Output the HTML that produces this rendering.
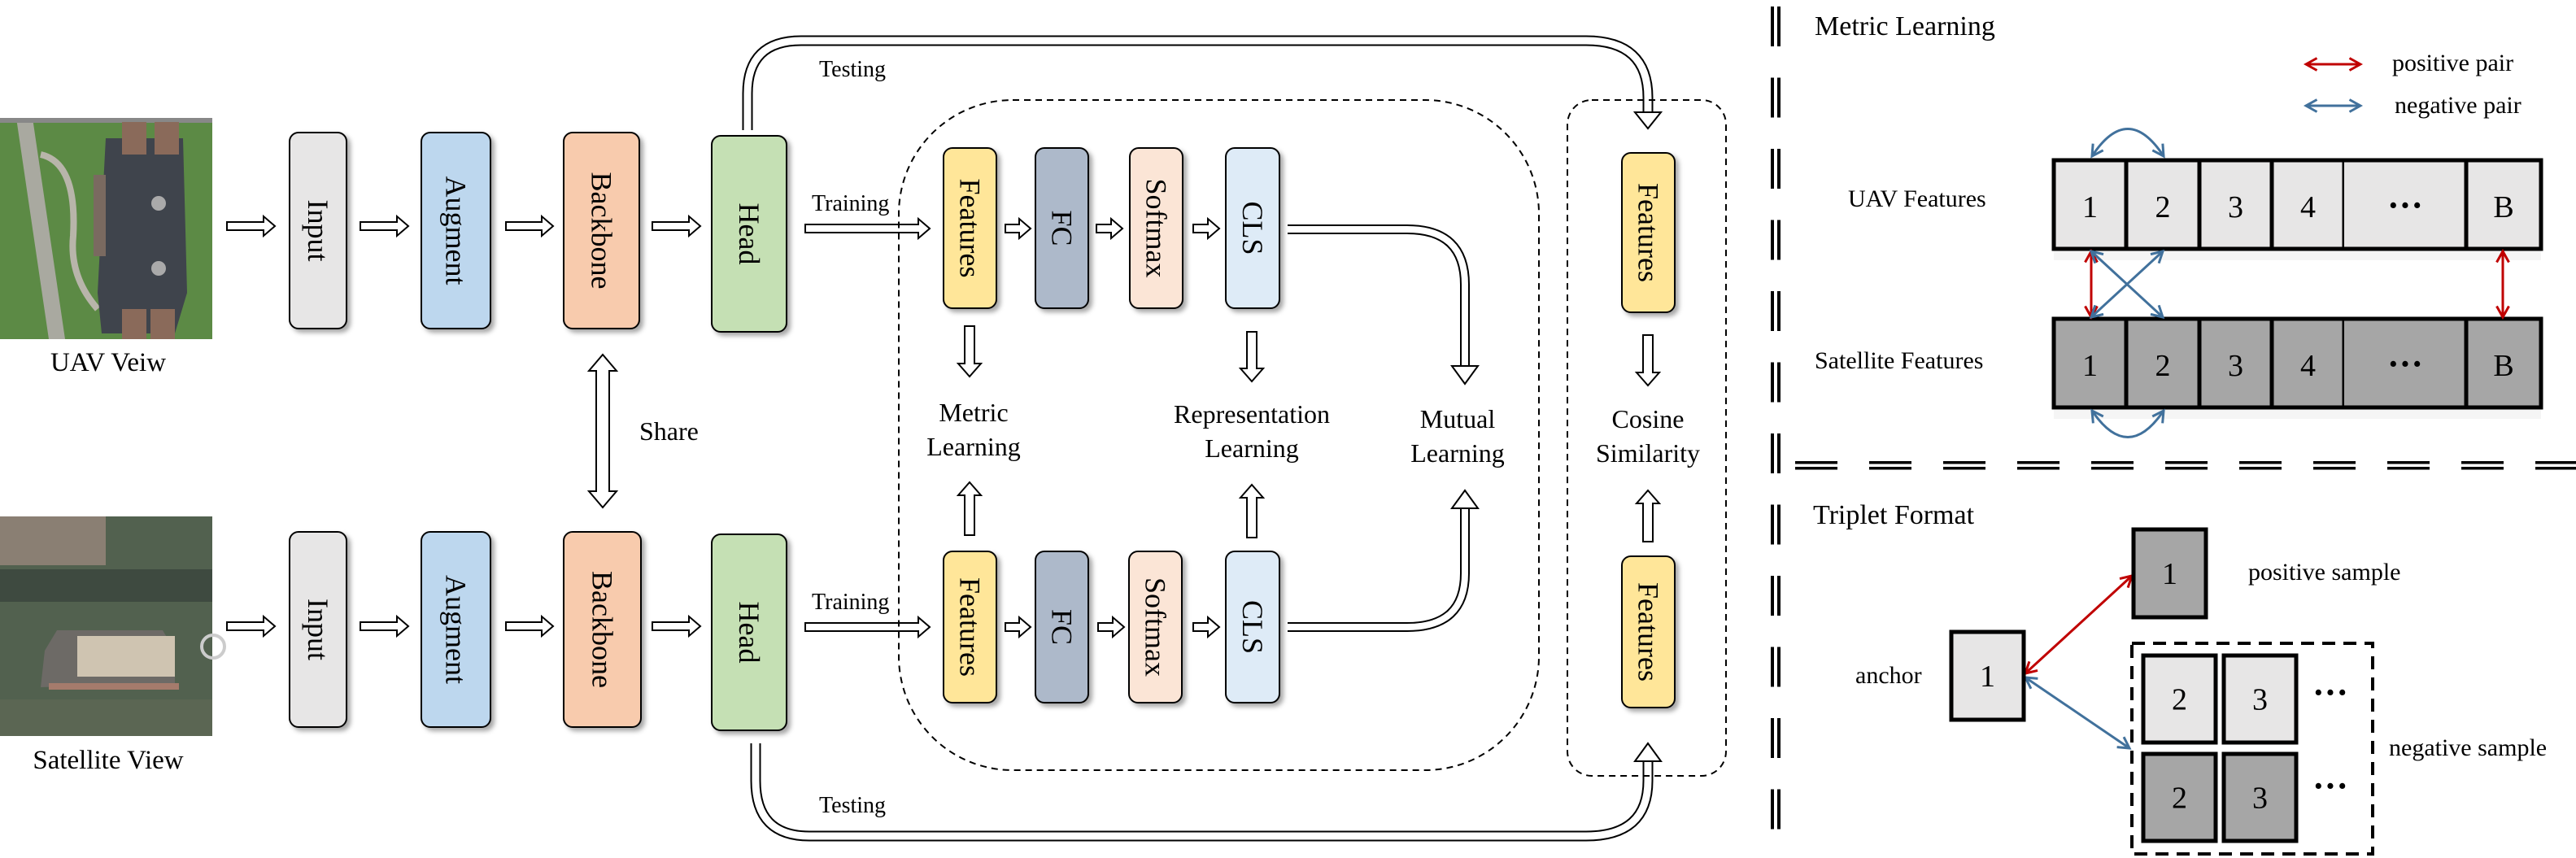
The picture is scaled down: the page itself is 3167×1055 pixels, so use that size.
<!DOCTYPE html>
<html><head><meta charset="utf-8"><style>
html,body{margin:0;padding:0;background:#fff}
svg{display:block}
text{font-family:"Liberation Serif",serif;fill:#000}
</style></head><body>
<svg id="s" width="3167" height="1055" viewBox="0 0 3167 1055" xmlns="http://www.w3.org/2000/svg">
<defs>
<filter id="sh" x="-20%" y="-20%" width="150%" height="150%"><feDropShadow dx="4" dy="4" stdDeviation="3" flood-color="#000" flood-opacity="0.35"/></filter>
<marker id="mr" viewBox="0 0 12 12" refX="10" refY="6" markerWidth="6" markerHeight="6" orient="auto-start-reverse"><path d="M1,1 L10,6 L1,11" fill="none" stroke="#c00000" stroke-width="2"/></marker>
<marker id="mb" viewBox="0 0 12 12" refX="10" refY="6" markerWidth="6" markerHeight="6" orient="auto-start-reverse"><path d="M1,1 L10,6 L1,11" fill="none" stroke="#41719c" stroke-width="2"/></marker>
</defs>

<!-- UAV image -->
<g>
<rect x="0" y="145" width="261" height="272" fill="#5c8a45"/>
<path d="M20,145 L60,417 L80,417 L40,145Z" fill="#a9a9a0"/>
<path d="M50,190 Q95,200 90,290 Q85,340 120,380" stroke="#b8b5aa" stroke-width="8" fill="none"/>
<rect x="0" y="145" width="261" height="6" fill="#888"/>
<polygon points="130,170 225,170 230,360 215,410 125,410 120,360" fill="#3f444c"/>
<rect x="150" y="150" width="30" height="40" fill="#8a6a5a"/><rect x="190" y="150" width="30" height="40" fill="#8a6a5a"/>
<rect x="150" y="380" width="30" height="37" fill="#8a6a5a"/><rect x="185" y="380" width="30" height="37" fill="#8a6a5a"/>
<rect x="115" y="215" width="15" height="100" fill="#7a6a60"/>
<circle cx="195" cy="250" r="9" fill="#aaa"/><circle cx="195" cy="330" r="9" fill="#aaa"/>
</g>
<text x="133" y="456" font-size="33" text-anchor="middle">UAV Veiw</text>

<!-- Satellite image -->
<g>
<rect x="0" y="635" width="261" height="270" fill="#52614f"/>
<rect x="0" y="635" width="130" height="60" fill="#8a7f73"/>
<rect x="0" y="700" width="261" height="40" fill="#3e4a40"/>
<polygon points="70,775 200,775 215,800 215,840 50,845 55,800" fill="#6d6a66"/>
<rect x="95" y="782" width="120" height="50" fill="#cfc4b1"/>
<rect x="60" y="840" width="160" height="8" fill="#a57b6c"/>
<rect x="0" y="860" width="261" height="45" fill="#5b6653"/>
<circle cx="262" cy="795" r="14" fill="none" stroke="#ccc" stroke-width="4"/>
</g>
<text x="133" y="945" font-size="33" text-anchor="middle">Satellite View</text>

<g id="g"></g>

<!-- right panel -->
<g id="r"></g>
</svg>
<script>
const NS='http://www.w3.org/2000/svg';
const g=document.getElementById('g');
const r=document.getElementById('r');
function el(parent,tag,attrs,txt){const e=document.createElementNS(NS,tag);for(const k in attrs)e.setAttribute(k,attrs[k]);if(txt!==undefined)e.textContent=txt;parent.appendChild(e);return e;}

// boxes: [label, x, y, w, h, color]
const boxes=[
['Input',356,163,70,241,'#e7e6e6'],['Augment',518,163,85,241,'#bdd7ee'],['Backbone',693,163,93,241,'#f8cbad'],['Head',875,167,92,241,'#c5e0b4'],
['Input',356,654,70,240,'#e7e6e6'],['Augment',518,654,85,240,'#bdd7ee'],['Backbone',693,654,95,240,'#f8cbad'],['Head',875,657,92,241,'#c5e0b4'],
['Features',1160,182,65,197,'#ffe699'],['FC',1273,182,65,197,'#adb9ca'],['Softmax',1389,182,65,197,'#fbe5d6'],['CLS',1507,182,66,197,'#deebf7'],
['Features',1160,678,65,186,'#ffe699'],['FC',1273,678,65,186,'#adb9ca'],['Softmax',1388,678,65,186,'#fbe5d6'],['CLS',1507,678,66,186,'#deebf7'],
['Features',1994,188,65,196,'#ffe699'],['Features',1994,684,65,186,'#ffe699']
];
boxes.forEach(b=>{
  const grp=el(g,'g',{});
  
  
  el(grp,'rect',{x:b[1],y:b[2],width:b[3],height:b[4],rx:11,fill:b[5],stroke:'#000','stroke-width':2,filter:'url(#sh)'});
  const cx=b[1]+b[3]/2,cy=b[2]+b[4]/2;
  el(grp,'text',{x:cx,y:cy,'font-size':36,'text-anchor':'middle','dominant-baseline':'central',transform:`rotate(90 ${cx} ${cy})`},b[0]);
});

// hollow horizontal arrows [x1,x2,y]
const hArrows=[[279,338,278],[443,502,278],[622,680,278],[802,861,278],[279,338,770],[443,502,770],[622,680,770],[802,861,770],
[1236,1267,281],[1348,1380,281],[1467,1499,281],[1236,1267,771],[1350,1382,771],[1467,1499,771],[990,1143,281],[990,1143,771]];
hArrows.forEach(a=>{
  const [x1,x2,y]=a,s=5,h=12,L=14;
  const p=el(g,'polygon',{points:`${x1},${y-s} ${x2-L},${y-s} ${x2-L},${y-h} ${x2},${y} ${x2-L},${y+h} ${x2-L},${y+s} ${x1},${y+s}`,fill:'#fff',stroke:'#000','stroke-width':2});
  
  
});
// vertical arrows [x,y1,y2] (from y1 to y2 tip)
const vArrows=[[1192,401,463],[1539,408,469],[2026,412,474],[1192,658,593],[1539,661,596],[2026,666,603]];
vArrows.forEach(a=>{
  const [x,y1,y2]=a,s=6,h=14,d=y2>y1?1:-1,L=16*d;
  const p=el(g,'polygon',{points:`${x-s},${y1} ${x-s},${y2-L} ${x-h},${y2-L} ${x},${y2} ${x+h},${y2-L} ${x+s},${y2-L} ${x+s},${y1}`,fill:'#fff',stroke:'#000','stroke-width':2});
  
  
});
// share double arrow
{const x=741,s=8,h=17,L=20,y1=436,y2=624;
const p=el(g,'polygon',{points:`${x},${y1} ${x+h},${y1+L} ${x+s},${y1+L} ${x+s},${y2-L} ${x+h},${y2-L} ${x},${y2} ${x-h},${y2-L} ${x-s},${y2-L} ${x-s},${y1+L} ${x-h},${y1+L}`,fill:'#fff',stroke:'#000','stroke-width':2});

}

// pipes
function pipe(d,w,name){
  const a=el(g,'path',{d:d,fill:'none',stroke:'#000','stroke-width':w+4});
  
  
  el(g,'path',{d:d,fill:'none',stroke:'#fff','stroke-width':w});
}
function headV(x,base,tip,hw){
  const p=el(g,'polygon',{points:`${x-hw},${base} ${x},${tip} ${x+hw},${base}`,fill:'#fff',stroke:'#000','stroke-width':2});
  
  
}
pipe('M919,160 V115 Q919,50 985,50 H1950 Q2026,50 2026,120 V140',9,'testing-path-top');
headV(2026,138,158,16);
pipe('M929,914 V960 Q929,1028 995,1028 H1950 Q2026,1028 2026,960 V936',9,'testing-path-bottom');
headV(2026,936,914,16);
pipe('M1583,282 H1730 Q1801,282 1801,350 V452',8,'mutual-path-top');
headV(1801,450,472,16);
pipe('M1583,771 H1730 Q1801,771 1801,705 V625',8,'mutual-path-bottom');
headV(1801,625,603,16);

// dashed containers
{const a=el(g,'rect',{x:1105,y:123,width:787,height:824,rx:140,fill:'none',stroke:'#000','stroke-width':2,'stroke-dasharray':'8,6'});


const b=el(g,'rect',{x:1927,y:123,width:195,height:831,rx:30,fill:'none',stroke:'#000','stroke-width':2,'stroke-dasharray':'8,6'});

}

// labels [text,x,y,anchor,size]
const labels=[['Testing',1007,94,'start',28],['Training',998,259,'start',28],['Training',998,749,'start',28],['Testing',1007,999,'start',28],['Share',786,541,'start',32],
['Metric',1197,518,'middle',32],['Learning',1197,560,'middle',32],['Representation',1539,520,'middle',32],['Learning',1539,562,'middle',32],
['Mutual',1792,526,'middle',32],['Learning',1792,568,'middle',32],['Cosine',2026,526,'middle',32],['Similarity',2026,568,'middle',32]];
labels.forEach(l=>{
  const t=el(g,'text',{x:l[1],y:l[2],'text-anchor':l[3],'font-size':l[4]},l[0]);
  
  
});

// ---- right panel ----
for(let i=0;i<12;i++){
  const y=8+i*87.5;
  const a=el(r,'rect',{x:2177,y:y,width:4,height:49,fill:'#000'});
  
  
  el(r,'rect',{x:2185,y:y,width:4,height:49,fill:'#000'});
}
for(let i=0;i<11;i++){
  const x=2207+i*91;
  const a=el(r,'rect',{x:x,y:567,width:52,height:3.5,fill:'#000'});
  
  
  el(r,'rect',{x:x,y:574,width:52,height:3.5,fill:'#000'});
}
const rtext=[['Metric Learning',2231,43,34,'start'],['Triplet Format',2229,644,34,'start'],['positive pair',2941,87,30,'start'],['negative pair',2944,139,30,'start'],
['UAV Features',2272,254,30,'start'],['Satellite Features',2231,453,30,'start'],['positive sample',2764,713,30,'start'],['anchor',2281,840,30,'start'],['negative sample',2937,929,30,'start']];
rtext.forEach(l=>{
  const t=el(r,'text',{x:l[1],y:l[2],'font-size':l[3],'text-anchor':l[4]},l[0]);
  
  
});
// feature rows
const cellX=[2525,2614,2704,2793,2882,3032,3124];
const cellL=['1','2','3','4','···','B'];
[[197,'#e7e6e6'],[392,'#a6a6a6']].forEach((row,ri)=>{
  const grp=el(r,'g',{});
  
  
  el(grp,'rect',{x:2525,y:row[0]+109,width:599,height:14,fill:'#eee',opacity:0.6});
  for(let i=0;i<6;i++){
    const x=cellX[i],w=cellX[i+1]-x,dots=i===4;
    el(grp,'rect',{x:x,y:row[0],width:w,height:109,fill:row[1],stroke:dots?'none':'#000','stroke-width':5});
    el(grp,'text',{x:x+w/2,y:row[0]+70,'font-size':dots?44:38,'text-anchor':'middle','font-weight':dots?'bold':'normal'},cellL[i]);
  }
  el(grp,'line',{x1:2882,y1:row[0],x2:3032,y2:row[0],stroke:'#000','stroke-width':5});
  el(grp,'line',{x1:2882,y1:row[0]+109,x2:3032,y2:row[0]+109,stroke:'#000','stroke-width':5});
});
// colored arrows [x1,y1,x2,y2,color]
const carr=[[2835,79,2902,79,'r'],[2835,130,2902,130,'b'],[2571,309,2571,390,'r'],[3077,309,3077,390,'r'],[2571,309,2659,390,'b'],[2659,309,2571,390,'b'],
[2490,828,2621,708,'r'],[2490,833,2618,920,'b']];
carr.forEach(a=>{
  const c=a[4]==='r'?'#c00000':'#41719c';
  const l=el(r,'line',{x1:a[0],y1:a[1],x2:a[2],y2:a[3],stroke:c,'stroke-width':3,'marker-start':`url(#m${a[4]})`,'marker-end':`url(#m${a[4]})`});
  
  
});
[['M2572,192 Q2616,125 2660,192'],['M2572,505 Q2616,570 2660,505']].forEach(d=>{
  const p=el(r,'path',{d:d[0],fill:'none',stroke:'#41719c','stroke-width':3,'marker-start':'url(#mb)','marker-end':'url(#mb)'});
  
  
});
// triplet boxes [x,y,fill,label]
const tb=[[2623,651,'#a6a6a6','1'],[2399,777,'#e7e6e6','1'],[2635,806,'#e7e6e6','2'],[2734,806,'#e7e6e6','3'],[2635,927,'#a6a6a6','2'],[2734,927,'#a6a6a6','3']];
tb.forEach(b=>{
  const grp=el(r,'g',{});
  
  
  const w=b[0]===2623||b[0]===2399?89:89, h=b[0]===2623||b[0]===2399?108:107;
  el(grp,'rect',{x:b[0],y:b[1],width:w,height:h,fill:b[2],stroke:'#000','stroke-width':5});
  el(grp,'text',{x:b[0]+w/2,y:b[1]+h/2+13,'font-size':38,'text-anchor':'middle'},b[3]);
});
{const d=el(r,'rect',{x:2621,y:791,width:296,height:259,fill:'none',stroke:'#000','stroke-width':4,'stroke-dasharray':'16,10'});

}
[[2865,866],[2865,981]].forEach(p=>{
  const t=el(r,'text',{x:p[0],y:p[1],'font-size':44,'text-anchor':'middle','font-weight':'bold'},'···');
  
  
});
</script>
</body></html>
